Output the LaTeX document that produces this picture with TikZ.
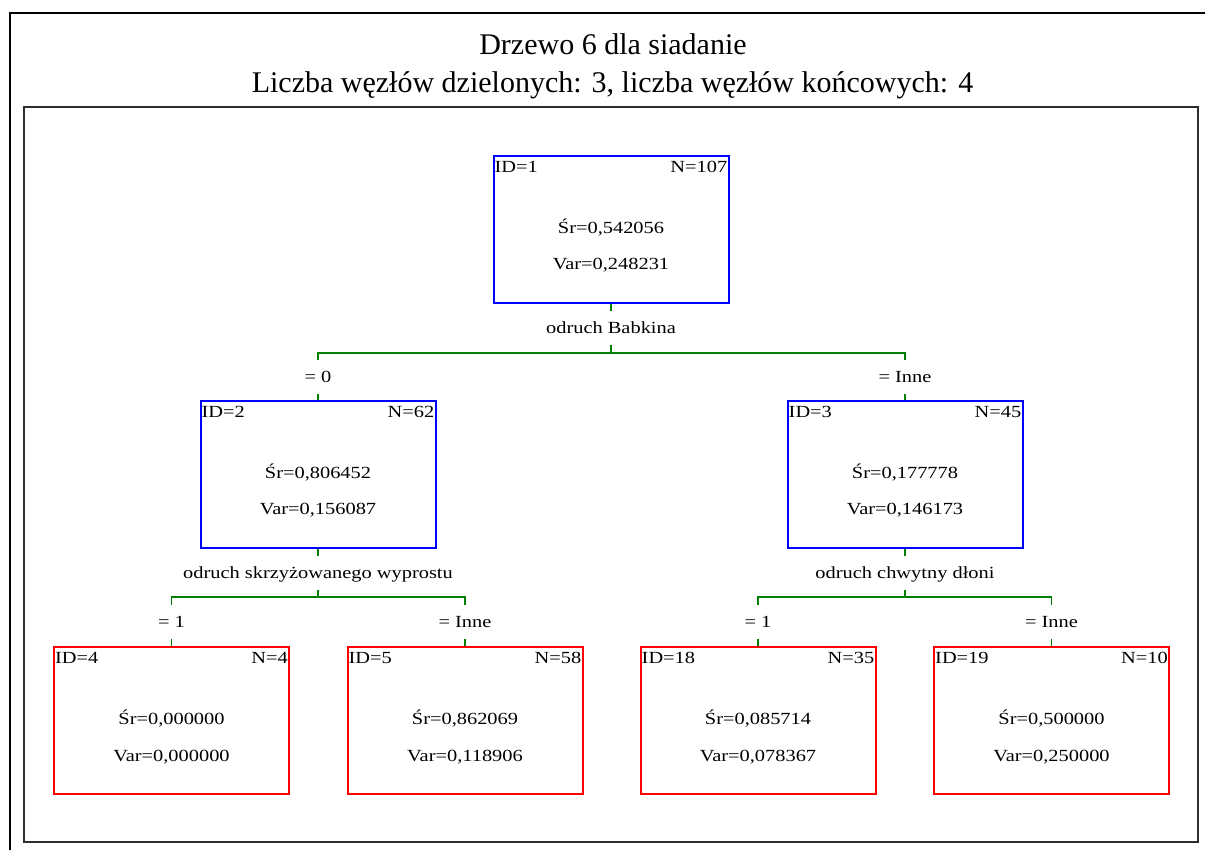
\documentclass[tikz,border=0pt]{standalone}
\usepackage{fontspec}
\setmainfont{Liberation Serif}
\newfontfamily\boxfont[FakeStretch=1.2]{Liberation Serif}
\usetikzlibrary{calc}

\definecolor{splitblue}{RGB}{0,0,255}
\definecolor{leafred}{RGB}{255,0,0}
\definecolor{linkgreen}{RGB}{0,128,0}
\definecolor{framegray}{RGB}{45,45,45}

\tikzset{
  x=1pt, y=-1pt,
  titletext/.style={font=\fontsize{30}{30}\selectfont, inner sep=0pt, text height=20pt, text depth=0pt},
  cell/.style={font=\boxfont\fontsize{17}{17}\selectfont, inner sep=0pt},
  splitbox/.style={draw=splitblue, line width=2pt, minimum width=235pt, minimum height=147pt, inner sep=0pt},
  leafbox/.style={draw=leafred, line width=2pt, minimum width=235pt, minimum height=147pt, inner sep=0pt},
  lbl/.style={font=\boxfont\fontsize{17}{17}\selectfont, inner sep=0pt, minimum height=34pt, text height=11.25pt, text depth=0pt},
  conn/.style={draw=linkgreen, line width=1.5pt},
}

% one tree cell: name, x, centre y, box style, ID, N, mean, variance
\newcommand{\drawtreecell}[8]{%
  \node[#4] (#1) at (#2,#3) {};
  \node[cell, anchor=base west] (#1id) at ($(#1.north west)+(2,17.5)$) {ID=#5};
  \node[cell, anchor=base east] (#1n) at ($(#1.north east)+(-2,17.5)$) {N=#6};
  \node[cell, anchor=base] (#1sr) at ($(#1.north)+(0,78.6)$) {Śr=#7};
  \node[cell, anchor=base] (#1var) at ($(#1.north)+(0,115)$) {Var=#8};
}

\begin{document}
\begin{tikzpicture}
  \useasboundingbox (0,0) rectangle (1205,850);
  \fill[white] (0,0) rectangle (1205,850);

  % frames
  \draw[black, line width=2pt] (10,850) -- (10,13) -- (1205,13);
  \draw[framegray, line width=2pt] (24,107) rectangle (1198,842);

  % heading
  \node[titletext] (title) at (613,45) {Drzewo 6 dla siadanie};
  \node[titletext] (subtitle) at (612.5,83) {Liczba węzłów dzielonych: 3, liczba węzłów końcowych: 4};

  % cells
  \drawtreecell{b1}{611}{229.5}{splitbox}{1}{107}{0,542056}{0,248231}
  \drawtreecell{b2}{318}{474}{splitbox}{2}{62}{0,806452}{0,156087}
  \drawtreecell{b3}{905}{474}{splitbox}{3}{45}{0,177778}{0,146173}
  \drawtreecell{b4}{171.5}{720.5}{leafbox}{4}{4}{0,000000}{0,000000}
  \drawtreecell{b5}{465}{720.5}{leafbox}{5}{58}{0,862069}{0,118906}
  \drawtreecell{b18}{758}{720.5}{leafbox}{18}{35}{0,085714}{0,078367}
  \drawtreecell{b19}{1051.5}{720.5}{leafbox}{19}{10}{0,500000}{0,250000}

  % split variables and branch conditions
  \node[lbl] (v1) at (611,328) {odruch Babkina};
  \node[lbl] (c2) at (318,377) {= 0};
  \node[lbl] (c3) at (905,377) {= Inne};
  \node[lbl] (v2) at (318,573) {odruch skrzyżowanego wyprostu};
  \node[lbl] (v3) at (905,573) {odruch chwytny dłoni};
  \node[lbl] (c4) at (171.5,622) {= 1};
  \node[lbl] (c5) at (465,622) {= Inne};
  \node[lbl] (c18) at (758,622) {= 1};
  \node[lbl] (c19) at (1051.5,622) {= Inne};

  \coordinate (s1) at (611,353);
  \coordinate (s2) at (318,597);
  \coordinate (s3) at (905,597);

  % connectors
  \draw[conn] (b1.south) -- (v1.north);
  \draw[conn] (v1.south) -- (s1);
  \draw[conn] (c2.north) |- (s1) -| (c3.north);
  \draw[conn] (c2.south) -- (b2.north);
  \draw[conn] (c3.south) -- (b3.north);

  \draw[conn] (b2.south) -- (v2.north);
  \draw[conn] (v2.south) -- (s2);
  \draw[conn] (c4.north) |- (s2) -| (c5.north);
  \draw[conn] (c4.south) -- (b4.north);
  \draw[conn] (c5.south) -- (b5.north);

  \draw[conn] (b3.south) -- (v3.north);
  \draw[conn] (v3.south) -- (s3);
  \draw[conn] (c18.north) |- (s3) -| (c19.north);
  \draw[conn] (c18.south) -- (b18.north);
  \draw[conn] (c19.south) -- (b19.north);
\end{tikzpicture}
\end{document}
